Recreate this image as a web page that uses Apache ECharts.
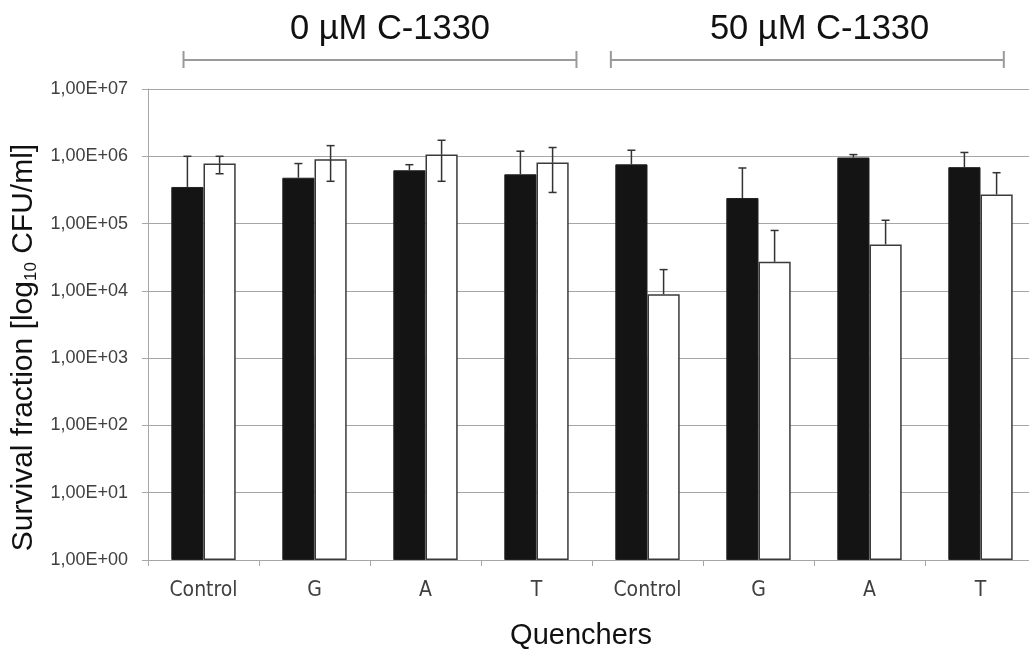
<!DOCTYPE html>
<html>
<head>
<meta charset="utf-8">
<script src="https://cdn.jsdelivr.net/npm/echarts@6/dist/echarts.min.js"></script>
<style>
  html, body { margin: 0; padding: 0; background: #fff; overflow: hidden; }
  #chart { width: 1029px; height: 649px; }
</style>
</head>
<body>
<div id="chart"></div>
<script>
// ---- data ----
const groups = ['0 µM C-1330', '50 µM C-1330'];
const quenchers = ['Control', 'G', 'A', 'T'];
const yTickLabels = ['1,00E+00', '1,00E+01', '1,00E+02', '1,00E+03', '1,00E+04', '1,00E+05', '1,00E+06', '1,00E+07'];
const blackValues    = [3.5e5, 4.8e5, 6.2e5, 5.4e5, 7.6e5, 2.4e5, 9.6e5, 6.9e5];
const blackErrTop    = [1.0e6, 7.8e5, 7.5e5, 1.19e6, 1.23e6, 6.7e5, 1.06e6, 1.14e6];
const whiteValues    = [7.8e5, 9.0e5, 1.06e6, 8.1e5, 8.9e3, 2.7e4, 4.9e4, 2.7e5];
const whiteErrTop    = [1.0e6, 1.44e6, 1.73e6, 1.35e6, 2.07e4, 7.9e4, 1.12e5, 5.7e5];
const whiteErrBottom = [5.5e5, 4.25e5, 4.25e5, 2.9e5, null, null, null, null];

// ---- build ----
const xData = [];
groups.forEach((g, gi) => quenchers.forEach(q => xData.push(gi + '|' + q)));

const BAR_FRAC = 0.58; // (1 - barCategoryGap)
function errData(values, tops, bottoms) {
  return values.map((v, i) => [i, v, tops[i], bottoms ? (bottoms[i] == null ? NaN : bottoms[i]) : NaN]);
}
function makeErrRender(side) {
  return function (params, api) {
    const idx = api.value(0);
    const v = api.value(1), top = api.value(2), bot = api.value(3);
    const band = api.size([1, 0])[0];
    const off = side * band * BAR_FRAC / 4;
    const pv = api.coord([idx, v]);
    const x = pv[0] + off;
    const yT = api.coord([idx, top])[1];
    const cap = 4;
    const style = { stroke: '#333', lineWidth: 1.5 };
    const children = [
      { type: 'line', shape: { x1: x, y1: pv[1], x2: x, y2: yT }, style },
      { type: 'line', shape: { x1: x - cap, y1: yT, x2: x + cap, y2: yT }, style }
    ];
    if (!isNaN(bot) && bot > 0) {
      const yB = api.coord([idx, bot])[1];
      children.push({ type: 'line', shape: { x1: x, y1: pv[1], x2: x, y2: yB }, style });
      children.push({ type: 'line', shape: { x1: x - cap, y1: yB, x2: x + cap, y2: yB }, style });
    }
    return { type: 'group', children };
  };
}

// bracket layout (category units)
const bracketCenters = [2.09, 5.94];
const textCenters = [2.18, 6.05];
const bracketHalf = 1.77;

const chart = echarts.init(document.getElementById('chart'), null, { renderer: 'canvas' });
chart.setOption({
  animation: false,
  backgroundColor: '#fff',
  grid: { left: 148, right: -7, top: 89, bottom: 89, outerBoundsMode: 'none', containLabel: false },
  xAxis: {
    type: 'category',
    data: xData,
    axisLine: { lineStyle: { color: '#a6a6a6', width: 1 } },
    axisTick: { show: true, length: 6, lineStyle: { color: '#a6a6a6' } },
    axisLabel: {
      formatter: v => v.split('|')[1],
      fontFamily: 'DejaVu Sans Condensed, DejaVu Sans',
      fontSize: 21, color: '#404040', margin: 20
    },
    name: 'Quenchers',
    nameLocation: 'middle',
    nameGap: 61,
    nameTextStyle: { fontFamily: 'Liberation Sans, Arial', fontSize: 29, color: '#111', verticalAlign: 'top', padding: [0, 22, 0, 0] }
  },
  yAxis: {
    type: 'log',
    logBase: 10,
    min: 1,
    max: 1e7,
    interval: 1,
    axisLine: { show: true, lineStyle: { color: '#a6a6a6', width: 1 } },
    axisTick: { show: true, inside: false, length: 6, lineStyle: { color: '#a6a6a6' } },
    splitLine: { show: true, lineStyle: { color: '#a6a6a6', width: 1 } },
    axisLabel: {
      formatter: v => yTickLabels[Math.round(Math.log10(v))],
      fontFamily: 'Liberation Sans, Arial',
      fontSize: 18, color: '#404040', margin: 20
    },
    name: '{m|Survival fraction [log}{s|10}{m| CFU/ml]}',
    nameLocation: 'middle',
    nameGap: 108,
    nameRotate: 90,
    nameTextStyle: {
      padding: [0, 46, 0, 0],
      rich: {
        m: { fontFamily: 'Liberation Sans, Arial', fontSize: 30, color: '#111' },
        s: { fontFamily: 'Liberation Sans, Arial', fontSize: 17, color: '#111', verticalAlign: 'bottom', padding: [14, 0, 0, 0] }
      }
    }
  },
  series: [
    {
      type: 'bar', name: 'black', data: blackValues,
      barGap: '0%', barCategoryGap: '42%',
      itemStyle: { color: '#141414', borderColor: '#222', borderWidth: 1 }
    },
    {
      type: 'bar', name: 'white', data: whiteValues,
      barGap: '0%', barCategoryGap: '42%',
      itemStyle: { color: '#ffffff', borderColor: '#3a3a3a', borderWidth: 1.5 }
    },
    {
      type: 'custom', name: 'errBlack', clip: false, z: 5,
      data: errData(blackValues, blackErrTop, null),
      encode: { x: 0, y: 1 },
      renderItem: makeErrRender(-1)
    },
    {
      type: 'custom', name: 'errWhite', clip: false, z: 5,
      data: errData(whiteValues, whiteErrTop, whiteErrBottom),
      encode: { x: 0, y: 1 },
      renderItem: makeErrRender(1)
    },
    {
      type: 'custom', name: 'brackets', clip: false, z: 5,
      data: groups.map((g, gi) => [gi, 1e7]),
      encode: { x: 0, y: 1 },
      renderItem: function (params, api) {
        const gi = api.value(0);
        const band = api.size([1, 0])[0];
        const p0 = api.coord([0, 1e7]);
        const xLeft0 = p0[0] - band / 2;
        const c = xLeft0 + bracketCenters[gi] * band;
        const tc = xLeft0 + textCenters[gi] * band;
        const x1 = c - bracketHalf * band, x2 = c + bracketHalf * band;
        const yL = p0[1] - 29;
        const st = { stroke: '#9a9a9a', lineWidth: 2 };
        return {
          type: 'group',
          children: [
            { type: 'line', shape: { x1: x1, y1: yL, x2: x2, y2: yL }, style: st },
            { type: 'line', shape: { x1: x1, y1: yL - 9, x2: x1, y2: yL + 8 }, style: st },
            { type: 'line', shape: { x1: x2, y1: yL - 9, x2: x2, y2: yL + 8 }, style: st },
            { type: 'text', x: tc, y: p0[1] - 60,
              style: { text: groups[gi], fill: '#111', font: '34.5px "Liberation Sans", Arial', align: 'center', verticalAlign: 'middle' } }
          ]
        };
      }
    }
  ]
});
</script>
</body>
</html>
